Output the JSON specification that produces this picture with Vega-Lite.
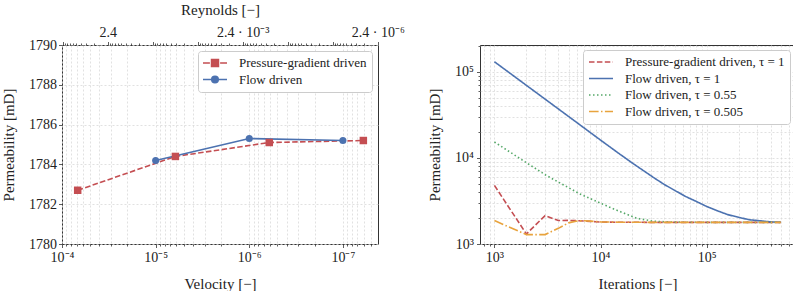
{
  "$schema": "https://vega.github.io/schema/vega-lite/v6.json",
  "background": "white",
  "padding": {"left": 1, "top": 2, "right": 0, "bottom": 0},
  "spacing": 22,
  "resolve": {
    "scale": {"stroke": "independent", "strokeDash": "independent", "fill": "independent", "shape": "independent", "color": "independent"},
    "legend": {"stroke": "independent", "strokeDash": "independent", "fill": "independent", "shape": "independent", "color": "independent"}
  },
  "datasets": {
    "re": [{"Re": 2.4}, {"Re": 0.0024}, {"Re": 0.0000024}],
    "left": [
      {"v": 6.8e-5, "k": 1782.7, "s": "Pressure-gradient driven"},
      {"v": 6.15e-6, "k": 1784.4, "s": "Pressure-gradient driven"},
      {"v": 6.12e-7, "k": 1785.1, "s": "Pressure-gradient driven"},
      {"v": 6.05e-8, "k": 1785.2, "s": "Pressure-gradient driven"},
      {"v": 1e-5, "k": 1784.2, "s": "Flow driven"},
      {"v": 1e-6, "k": 1785.3, "s": "Flow driven"},
      {"v": 1e-7, "k": 1785.2, "s": "Flow driven"}
    ],
    "right": [
      {"n": 1000, "k": 4790, "s": "Pressure-gradient driven, τ = 1"},
      {"n": 2000, "k": 1307, "s": "Pressure-gradient driven, τ = 1"},
      {"n": 3000, "k": 2140, "s": "Pressure-gradient driven, τ = 1"},
      {"n": 4000, "k": 1873, "s": "Pressure-gradient driven, τ = 1"},
      {"n": 5000, "k": 1880, "s": "Pressure-gradient driven, τ = 1"},
      {"n": 6000, "k": 1865, "s": "Pressure-gradient driven, τ = 1"},
      {"n": 7000, "k": 1850, "s": "Pressure-gradient driven, τ = 1"},
      {"n": 8000, "k": 1830, "s": "Pressure-gradient driven, τ = 1"},
      {"n": 9000, "k": 1815, "s": "Pressure-gradient driven, τ = 1"},
      {"n": 10000, "k": 1800, "s": "Pressure-gradient driven, τ = 1"},
      {"n": 15000, "k": 1790, "s": "Pressure-gradient driven, τ = 1"},
      {"n": 20000, "k": 1787, "s": "Pressure-gradient driven, τ = 1"},
      {"n": 30000, "k": 1785, "s": "Pressure-gradient driven, τ = 1"},
      {"n": 100000, "k": 1785, "s": "Pressure-gradient driven, τ = 1"},
      {"n": 500000, "k": 1785, "s": "Pressure-gradient driven, τ = 1"},
      {"n": 1000, "k": 131000, "s": "Flow driven, τ = 1"},
      {"n": 2000, "k": 69700, "s": "Flow driven, τ = 1"},
      {"n": 5000, "k": 30300, "s": "Flow driven, τ = 1"},
      {"n": 10000, "k": 16100, "s": "Flow driven, τ = 1"},
      {"n": 15000, "k": 11190, "s": "Flow driven, τ = 1"},
      {"n": 20000, "k": 8690, "s": "Flow driven, τ = 1"},
      {"n": 31600, "k": 5915, "s": "Flow driven, τ = 1"},
      {"n": 40000, "k": 4900, "s": "Flow driven, τ = 1"},
      {"n": 50100, "k": 4190, "s": "Flow driven, τ = 1"},
      {"n": 63000, "k": 3573, "s": "Flow driven, τ = 1"},
      {"n": 79400, "k": 3133, "s": "Flow driven, τ = 1"},
      {"n": 100000, "k": 2729, "s": "Flow driven, τ = 1"},
      {"n": 126000, "k": 2432, "s": "Flow driven, τ = 1"},
      {"n": 158000, "k": 2193, "s": "Flow driven, τ = 1"},
      {"n": 200000, "k": 2042, "s": "Flow driven, τ = 1"},
      {"n": 251000, "k": 1914, "s": "Flow driven, τ = 1"},
      {"n": 316000, "k": 1862, "s": "Flow driven, τ = 1"},
      {"n": 398000, "k": 1807, "s": "Flow driven, τ = 1"},
      {"n": 500000, "k": 1786, "s": "Flow driven, τ = 1"},
      {"n": 1000, "k": 15300, "s": "Flow driven, τ = 0.55"},
      {"n": 2000, "k": 8800, "s": "Flow driven, τ = 0.55"},
      {"n": 3090, "k": 6250, "s": "Flow driven, τ = 0.55"},
      {"n": 4500, "k": 4840, "s": "Flow driven, τ = 0.55"},
      {"n": 6380, "k": 3820, "s": "Flow driven, τ = 0.55"},
      {"n": 9200, "k": 3120, "s": "Flow driven, τ = 0.55"},
      {"n": 13200, "k": 2560, "s": "Flow driven, τ = 0.55"},
      {"n": 21900, "k": 1990, "s": "Flow driven, τ = 0.55"},
      {"n": 31200, "k": 1840, "s": "Flow driven, τ = 0.55"},
      {"n": 45000, "k": 1800, "s": "Flow driven, τ = 0.55"},
      {"n": 70000, "k": 1788, "s": "Flow driven, τ = 0.55"},
      {"n": 100000, "k": 1785, "s": "Flow driven, τ = 0.55"},
      {"n": 500000, "k": 1785, "s": "Flow driven, τ = 0.55"},
      {"n": 1000, "k": 1870, "s": "Flow driven, τ = 0.505"},
      {"n": 2000, "k": 1286, "s": "Flow driven, τ = 0.505"},
      {"n": 3000, "k": 1286, "s": "Flow driven, τ = 0.505"},
      {"n": 4000, "k": 1520, "s": "Flow driven, τ = 0.505"},
      {"n": 5000, "k": 1760, "s": "Flow driven, τ = 0.505"},
      {"n": 6000, "k": 1850, "s": "Flow driven, τ = 0.505"},
      {"n": 7000, "k": 1862, "s": "Flow driven, τ = 0.505"},
      {"n": 8000, "k": 1845, "s": "Flow driven, τ = 0.505"},
      {"n": 9000, "k": 1825, "s": "Flow driven, τ = 0.505"},
      {"n": 10000, "k": 1805, "s": "Flow driven, τ = 0.505"},
      {"n": 15000, "k": 1790, "s": "Flow driven, τ = 0.505"},
      {"n": 20000, "k": 1787, "s": "Flow driven, τ = 0.505"},
      {"n": 30000, "k": 1785, "s": "Flow driven, τ = 0.505"},
      {"n": 100000, "k": 1785, "s": "Flow driven, τ = 0.505"},
      {"n": 500000, "k": 1785, "s": "Flow driven, τ = 0.505"}
    ]
  },
  "hconcat": [
    {
      "width": 316,
      "height": 199,
      "layer": [
        {
          "data": {"name": "re"},
          "mark": {"type": "point", "opacity": 0},
          "encoding": {
            "x": {
              "field": "Re", "type": "quantitative",
              "scale": {"type": "log", "domain": [0.00000237, 24.8], "reverse": true},
              "axis": {
                "orient": "top", "title": "Reynolds [−]", "grid": false,
                "values": [24, 2.4, 0.24, 0.024, 0.0024, 0.00024, 0.000024, 0.0000024,
                  4.8, 7.2, 9.6, 12, 14.4, 16.8, 19.2, 21.6,
                  0.48, 0.72, 0.96, 1.2, 1.44, 1.68, 1.92, 2.16,
                  0.048, 0.072, 0.096, 0.12, 0.144, 0.168, 0.192, 0.216,
                  0.0048, 0.0072, 0.0096, 0.012, 0.0144, 0.0168, 0.0192, 0.0216,
                  0.00048, 0.00072, 0.00096, 0.0012, 0.00144, 0.00168, 0.00192, 0.00216,
                  0.000048, 0.000072, 0.000096, 0.00012, 0.000144, 0.000168, 0.000192, 0.000216,
                  0.0000048, 0.0000072, 0.0000096, 0.000012, 0.0000144, 0.0000168, 0.0000192, 0.0000216],
                "labelExpr": "abs(datum.value/2.4 - 1) < 0.001 ? '2.4' : abs(datum.value/0.0024 - 1) < 0.001 ? '2.4 · 10⁻³' : abs(datum.value/0.0000024 - 1) < 0.001 ? '2.4 · 10⁻⁶' : ''",
                "tickSize": {"condition": {"test": "abs(log(datum.value/2.4)/LN10 - round(log(datum.value/2.4)/LN10)) < 0.001", "value": 3.5}, "value": 2},
                "labelPadding": 2, "titlePadding": 8
              }
            }
          }
        },
        {
          "data": {"name": "left"},
          "encoding": {
            "x": {
              "field": "v", "type": "quantitative",
              "scale": {"type": "log", "domain": [4.22e-8, 1e-4], "reverse": true},
              "axis": {
                "title": "Velocity [−]", "grid": true,
                "values": [5e-8, 6e-8, 7e-8, 8e-8, 9e-8, 1e-7, 2e-7, 3e-7, 4e-7, 5e-7, 6e-7, 7e-7, 8e-7, 9e-7, 1e-6, 2e-6, 3e-6, 4e-6, 5e-6, 6e-6, 7e-6, 8e-6, 9e-6, 1e-5, 2e-5, 3e-5, 4e-5, 5e-5, 6e-5, 7e-5, 8e-5, 9e-5, 1e-4],
                "labelExpr": "abs(log(datum.value)/LN10 - round(log(datum.value)/LN10)) < 0.001 ? (round(log(datum.value)/LN10) == -4 ? '10⁻⁴' : round(log(datum.value)/LN10) == -5 ? '10⁻⁵' : round(log(datum.value)/LN10) == -6 ? '10⁻⁶' : '10⁻⁷') : ''",
                "tickSize": {"condition": {"test": "abs(log(datum.value)/LN10 - round(log(datum.value)/LN10)) < 0.001", "value": 3.5}, "value": 2}
              }
            },
            "y": {
              "field": "k", "type": "quantitative",
              "scale": {"domain": [1780, 1790], "nice": false, "zero": false},
              "axis": {"title": "Permeability [mD]", "grid": true, "values": [1780, 1782, 1784, 1786, 1788, 1790], "format": "d", "tickSize": 3.5, "labelPadding": 2}
            }
          },
          "layer": [
            {
              "transform": [{"filter": "datum.s == 'Pressure-gradient driven'"}],
              "mark": {"type": "line", "color": "#C44E52", "strokeWidth": 1.6, "strokeDash": [5.5, 2.4]}
            },
            {
              "transform": [{"filter": "datum.s == 'Flow driven'"}],
              "mark": {"type": "line", "color": "#4C72B0", "strokeWidth": 1.6}
            },
            {
              "transform": [{"filter": "datum.s == 'Pressure-gradient driven'"}],
              "mark": {"type": "point", "shape": "square", "filled": true, "size": 56, "color": "#C44E52", "opacity": 1}
            },
            {
              "transform": [{"filter": "datum.s == 'Flow driven'"}],
              "mark": {"type": "point", "shape": "circle", "filled": true, "size": 50, "color": "#4C72B0", "opacity": 1}
            },
            {
              "mark": {"type": "point", "filled": true, "opacity": 0, "size": 144},
              "encoding": {
                "fill": {
                  "field": "s", "type": "nominal",
                  "scale": {"domain": ["Pressure-gradient driven", "Flow driven"], "range": ["#C44E52", "#4C72B0"]},
                  "legend": {"title": null, "orient": "top-right", "offset": 6, "symbolSize": 144, "symbolStrokeWidth": 1.5, "symbolOpacity": 1, "symbolOffset": 5, "labelOffset": 17, "labelFontSize": 13, "labelFont": "Liberation Serif", "labelColor": "#222222", "labelLimit": 300, "strokeColor": "#cccccc", "fillColor": "#ffffff", "cornerRadius": 3, "padding": 5, "rowPadding": 2.5}
                },
                "stroke": {
                  "field": "s", "type": "nominal",
                  "scale": {"domain": ["Pressure-gradient driven", "Flow driven"], "range": ["#C44E52", "#4C72B0"]},
                  "legend": {"title": null, "orient": "top-right", "offset": 6, "symbolSize": 144, "symbolStrokeWidth": 1.5, "symbolOpacity": 1, "symbolOffset": 5, "labelOffset": 17, "labelFontSize": 13, "labelFont": "Liberation Serif", "labelColor": "#222222", "labelLimit": 300, "strokeColor": "#cccccc", "fillColor": "#ffffff", "cornerRadius": 3, "padding": 5, "rowPadding": 2.5}
                },
                "shape": {
                  "field": "s", "type": "nominal",
                  "scale": {"domain": ["Pressure-gradient driven", "Flow driven"], "range": ["M-2,0H-0.85M0.85,0H2M-0.58,-0.58H0.58V0.58H-0.58Z", "M-2,0H2M0.55,0A0.55,0.55 0 1,1 -0.55,0A0.55,0.55 0 1,1 0.55,0Z"]},
                  "legend": {"title": null, "orient": "top-right", "offset": 6, "symbolSize": 144, "symbolStrokeWidth": 1.5, "symbolOpacity": 1, "symbolOffset": 5, "labelOffset": 17, "labelFontSize": 13, "labelFont": "Liberation Serif", "labelColor": "#222222", "labelLimit": 300, "strokeColor": "#cccccc", "fillColor": "#ffffff", "cornerRadius": 3, "padding": 5, "rowPadding": 2.5}
                }
              }
            }
          ]
        }
      ],
      "resolve": {"scale": {"x": "independent"}}
    },
    {
      "width": 315,
      "height": 199,
      "data": {"name": "right"},
      "mark": {"type": "line", "strokeWidth": 1.6},
      "encoding": {
        "x": {
          "field": "n", "type": "quantitative",
          "scale": {"type": "log", "domain": [731, 680000]},
          "axis": {
            "title": "Iterations [−]", "grid": true,
            "values": [800, 900, 1000, 2000, 3000, 4000, 5000, 6000, 7000, 8000, 9000, 10000, 20000, 30000, 40000, 50000, 60000, 70000, 80000, 90000, 100000, 200000, 300000, 400000, 500000, 600000],
            "labelExpr": "abs(log(datum.value)/LN10 - round(log(datum.value)/LN10)) < 0.001 ? (round(log(datum.value)/LN10) == 3 ? '10³' : round(log(datum.value)/LN10) == 4 ? '10⁴' : '10⁵') : ''",
            "tickSize": {"condition": {"test": "abs(log(datum.value)/LN10 - round(log(datum.value)/LN10)) < 0.001", "value": 3.5}, "value": 2}
          }
        },
        "y": {
          "field": "k", "type": "quantitative",
          "scale": {"type": "log", "domain": [1000, 205000]},
          "axis": {
            "title": "Permeability [mD]", "grid": true,
            "values": [1000, 2000, 3000, 4000, 5000, 6000, 7000, 8000, 9000, 10000, 20000, 30000, 40000, 50000, 60000, 70000, 80000, 90000, 100000, 200000],
            "labelExpr": "abs(log(datum.value)/LN10 - round(log(datum.value)/LN10)) < 0.001 ? (round(log(datum.value)/LN10) == 3 ? '10³' : round(log(datum.value)/LN10) == 4 ? '10⁴' : '10⁵') : ''",
            "tickSize": {"condition": {"test": "abs(log(datum.value)/LN10 - round(log(datum.value)/LN10)) < 0.001", "value": 3.5}, "value": 2},
            "labelPadding": 3
          }
        },
        "stroke": {
          "field": "s", "type": "nominal",
          "scale": {"domain": ["Pressure-gradient driven, τ = 1", "Flow driven, τ = 1", "Flow driven, τ = 0.55", "Flow driven, τ = 0.505"], "range": ["#C44E52", "#4C72B0", "#55A868", "#E8A33D"]},
          "legend": {"title": null, "orient": "top-right", "offset": 5, "symbolType": "M-2,0H2", "symbolSize": 144, "symbolStrokeWidth": 1.6, "symbolOffset": 6, "labelOffset": 17, "labelFontSize": 13, "labelFont": "Liberation Serif", "labelColor": "#222222", "labelLimit": 300, "strokeColor": "#cccccc", "fillColor": "#ffffff", "cornerRadius": 3, "padding": 5, "rowPadding": 2.5}
        },
        "strokeDash": {
          "field": "s", "type": "nominal",
          "scale": {"domain": ["Pressure-gradient driven, τ = 1", "Flow driven, τ = 1", "Flow driven, τ = 0.55", "Flow driven, τ = 0.505"], "range": [[5.5, 2.4], [1, 0], [1.5, 2.5], [9.6, 2.4, 1.5, 2.4]]},
          "legend": {"title": null, "orient": "top-right", "offset": 5, "symbolType": "M-2,0H2", "symbolSize": 144, "symbolStrokeWidth": 1.6, "symbolOffset": 6, "labelOffset": 17, "labelFontSize": 13, "labelFont": "Liberation Serif", "labelColor": "#222222", "labelLimit": 300, "strokeColor": "#cccccc", "fillColor": "#ffffff", "cornerRadius": 3, "padding": 5, "rowPadding": 2.5}
        }
      }
    }
  ],
  "config": {
    "view": {"stroke": "#333333", "strokeWidth": 1},
    "axis": {
      "labelFont": "Liberation Serif", "labelFontSize": 14, "labelColor": "#222222",
      "titleFont": "Liberation Serif", "titleFontSize": 15, "titleFontWeight": "normal", "titleColor": "#222222",
      "domain": false, "tickColor": "#333333", "tickWidth": 0.8,
      "gridColor": "#d9d9d9", "gridDash": [2, 2], "gridWidth": 0.8,
      "labelFlush": false, "labelOverlap": false, "labelPadding": 3
    },
    "axisX": {"titlePadding": 12},
    "axisY": {"titlePadding": 12},
    "legend": {"labelFont": "Liberation Serif"}
  }
}
